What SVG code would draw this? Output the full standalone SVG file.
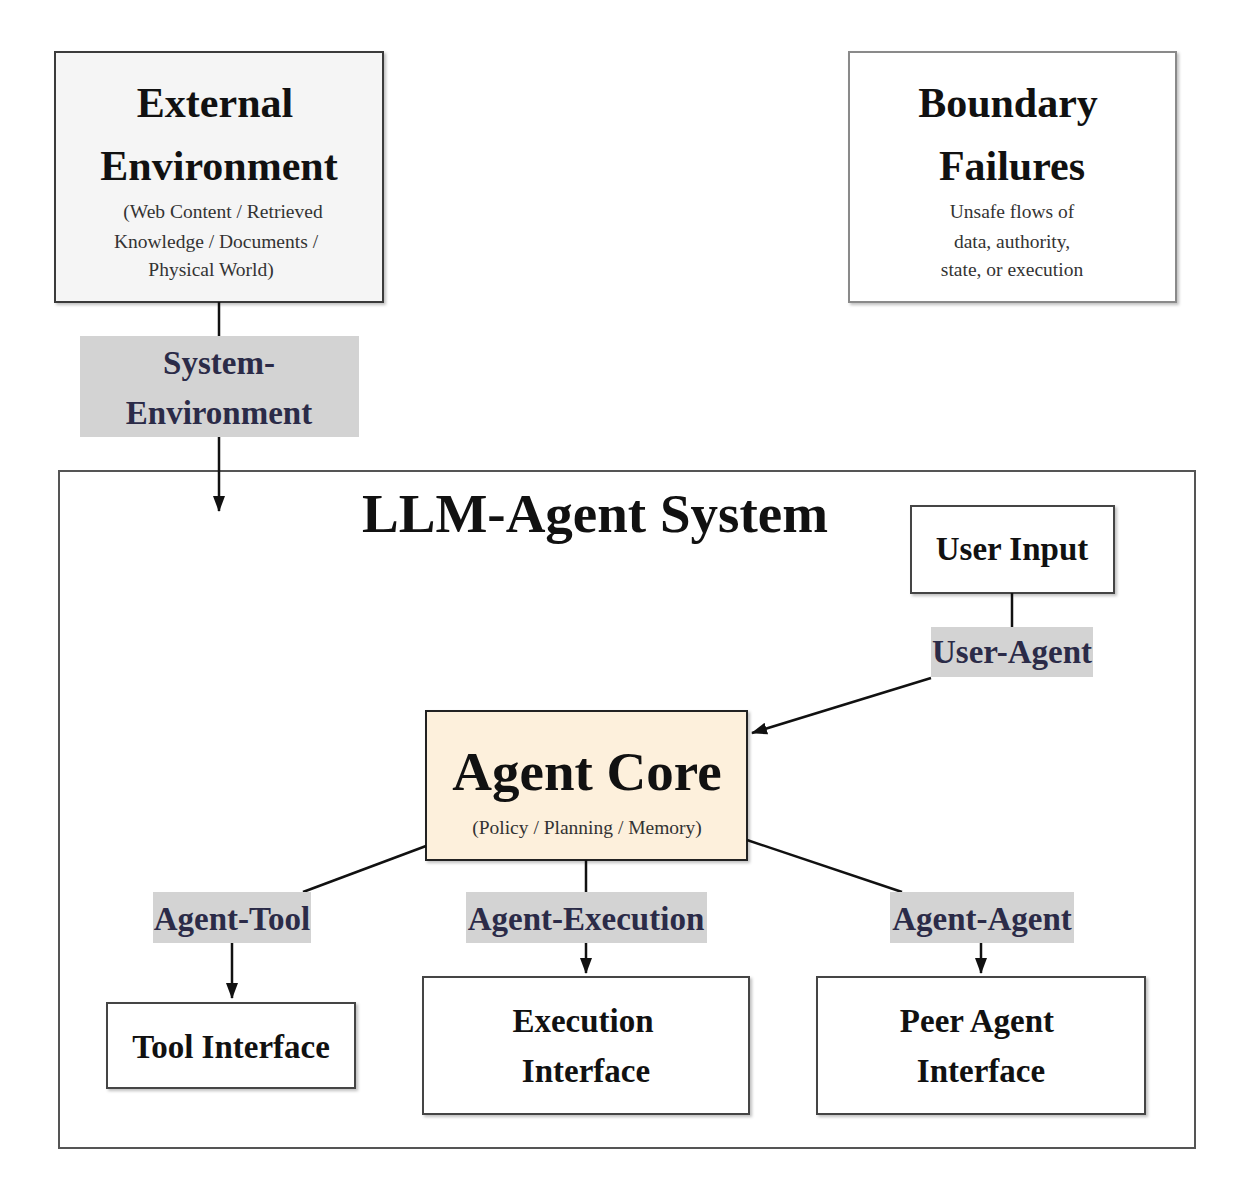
<svg xmlns="http://www.w3.org/2000/svg" width="1260" height="1180" viewBox="0 0 1260 1180">
<defs>
<style>
.box{fill:#fff;stroke:#444;stroke-width:2;filter:url(#sh)}
.big{font-family:"Liberation Serif","Times New Roman",serif;font-weight:bold;fill:#111;text-anchor:middle}
.sub{font-family:"Liberation Serif","Times New Roman",serif;font-size:19.5px;fill:#333;text-anchor:middle}
.lbl{fill:#d3d3d3}
.lt{font-family:"Liberation Serif","Times New Roman",serif;font-weight:bold;font-size:33px;fill:#2b2b48;text-anchor:middle}
.ln{stroke:#111;stroke-width:2.5;fill:none}
</style>
<filter id="sh" x="-5%" y="-5%" width="115%" height="115%">
<feDropShadow dx="2" dy="2" stdDeviation="1.5" flood-color="#000" flood-opacity="0.25"/>
</filter>
<marker id="ah" markerUnits="userSpaceOnUse" markerWidth="16" markerHeight="16" viewBox="0 0 16 16" refX="15" refY="8" orient="auto">
<path d="M0,2 L16,8 L0,14 Z" fill="#111"/>
</marker>
</defs>
<rect width="1260" height="1180" fill="#fff"/>

<g id="llm-agent-system">
<rect x="59" y="471" width="1136" height="677" fill="#fff" stroke="#555" stroke-width="2"/>
<text class="big" x="595" y="532" font-size="55">LLM-Agent System</text>
</g>

<g id="external-environment">
<rect class="box" x="55" y="52" width="328" height="250" style="fill:#f5f5f5;stroke:#3a3a3a"/>
<text class="big" x="215" y="117" font-size="42">External</text>
<text class="big" x="219" y="180" font-size="42">Environment</text>
<text class="sub" x="223" y="218">(Web Content / Retrieved</text>
<text class="sub" x="216" y="248">Knowledge / Documents /</text>
<text class="sub" x="211" y="276">Physical World)</text>
</g>

<g id="boundary-failures">
<rect class="box" x="849" y="52" width="327" height="250" style="stroke:#8a8a8a"/>
<text class="big" x="1008" y="117" font-size="42">Boundary</text>
<text class="big" x="1012" y="180" font-size="42">Failures</text>
<text class="sub" x="1012" y="218">Unsafe flows of</text>
<text class="sub" x="1012" y="248">data, authority,</text>
<text class="sub" x="1012" y="276">state, or execution</text>
</g>

<g id="user-input">
<rect class="box" x="911" y="506" width="203" height="87"/>
<text class="big" x="1012" y="560" font-size="33">User Input</text>
</g>

<g id="agent-core">
<rect class="box" x="426" y="711" width="321" height="149" style="fill:#fdf0dc;stroke:#222"/>
<text class="big" x="587" y="790" font-size="55">Agent Core</text>
<text class="sub" x="587" y="834">(Policy / Planning / Memory)</text>
</g>

<g id="tool-interface">
<rect class="box" x="107" y="1003" width="248" height="85"/>
<text class="big" x="231" y="1058" font-size="33">Tool Interface</text>
</g>

<g id="execution-interface">
<rect class="box" x="423" y="977" width="326" height="137"/>
<text class="big" x="583" y="1032" font-size="33">Execution</text>
<text class="big" x="586" y="1082" font-size="33">Interface</text>
</g>

<g id="peer-agent-interface">
<rect class="box" x="817" y="977" width="328" height="137"/>
<text class="big" x="977" y="1032" font-size="33">Peer Agent</text>
<text class="big" x="981" y="1082" font-size="33">Interface</text>
</g>

<g id="connectors">
<line class="ln" x1="219" y1="302" x2="219" y2="337"/>
<line class="ln" x1="219" y1="437" x2="219" y2="511" marker-end="url(#ah)"/>
<line class="ln" x1="1012" y1="593" x2="1012" y2="627"/>
<line class="ln" x1="931" y1="678" x2="752" y2="733" marker-end="url(#ah)"/>
<line class="ln" x1="426" y1="846" x2="303" y2="892"/>
<line class="ln" x1="232" y1="943" x2="232" y2="998" marker-end="url(#ah)"/>
<line class="ln" x1="586" y1="860" x2="586" y2="892"/>
<line class="ln" x1="586" y1="943" x2="586" y2="973" marker-end="url(#ah)"/>
<line class="ln" x1="747" y1="840" x2="902" y2="892"/>
<line class="ln" x1="981" y1="943" x2="981" y2="973" marker-end="url(#ah)"/>

<g id="label-system-environment">
<rect class="lbl" x="80" y="336" width="279" height="101"/>
<text class="lt" x="219" y="374">System-</text>
<text class="lt" x="219" y="424">Environment</text>
</g>
<g id="label-user-agent">
<rect class="lbl" x="931" y="627" width="162" height="50"/>
<text class="lt" x="1012" y="663">User-Agent</text>
</g>
<g id="label-agent-tool">
<rect class="lbl" x="153" y="892" width="158" height="51"/>
<text class="lt" x="232" y="930">Agent-Tool</text>
</g>
<g id="label-agent-execution">
<rect class="lbl" x="466" y="892" width="241" height="51"/>
<text class="lt" x="586" y="930">Agent-Execution</text>
</g>
<g id="label-agent-agent">
<rect class="lbl" x="890" y="892" width="184" height="51"/>
<text class="lt" x="982" y="930">Agent-Agent</text>
</g>
</g>
</svg>
